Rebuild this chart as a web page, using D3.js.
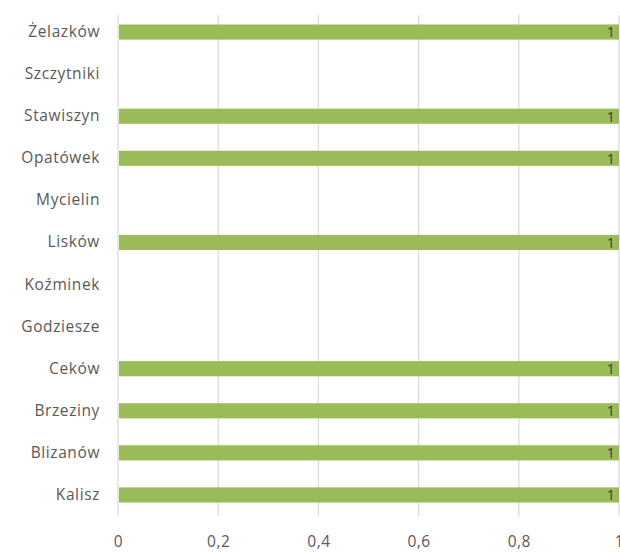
<!DOCTYPE html>
<html>
<head>
<meta charset="utf-8">
<script src="https://cdnjs.cloudflare.com/ajax/libs/d3/7.8.5/d3.min.js"></script>
<style>
  body { margin: 0; background: #fff; }
  text { font-family: "Open Sans", sans-serif; }
</style>
</head>
<body>
<div id="chart"></div>
<script>
// categories from top to bottom
const categories = ['Żelazków', 'Szczytniki', 'Stawiszyn', 'Opatówek', 'Mycielin', 'Lisków',
    'Koźminek', 'Godziesze', 'Ceków', 'Brzeziny', 'Blizanów', 'Kalisz'];
const values = [1, null, 1, 1, null, 1, null, null, 1, 1, 1, 1];
const xTicks = [0, 0.2, 0.4, 0.6, 0.8, 1];

const width = 620, height = 552;
const margin = {top: 11, right: 1, bottom: 36, left: 118};

const svg = d3.select('#chart').append('svg')
    .attr('width', width)
    .attr('height', height);

const chart = svg.append('g')
    .attr('transform', `translate(${margin.left},${margin.top})`);

const innerW = width - margin.left - margin.right;
const innerH = height - margin.top - margin.bottom;

// scales
const xScale = d3.scaleLinear().domain([0, 1]).range([0, innerW]);
const yScale = d3.scaleBand().domain(categories).range([0, innerH]).paddingInner(0.64).paddingOuter(0.32);

// vertical gridlines
chart.selectAll('.grid')
    .data(xTicks)
    .join('line')
    .attr('class', 'grid')
    .attr('x1', d => xScale(d))
    .attr('x2', d => xScale(d))
    .attr('y1', 4)
    .attr('y2', innerH)
    .attr('stroke', '#dcdcdc')
    .attr('stroke-width', 1.3);

// x axis labels
const xAxis = d3.axisBottom(xScale)
    .tickValues(xTicks)
    .tickSize(0)
    .tickPadding(20)
    .tickFormat(d => String(d).replace('.', ','));

chart.append('g')
    .attr('transform', `translate(0,${innerH})`)
    .call(xAxis)
    .call(g => g.select('.domain').remove())
    .call(g => g.selectAll('text')
        .attr('fill', '#595959')
        .style('font-size', '15.5px')
        .style('letter-spacing', '0.5px')
        .style('font-family', '"Open Sans", sans-serif'));

// y axis labels
const yAxis = d3.axisLeft(yScale).tickSize(0).tickPadding(18);
chart.append('g')
    .call(yAxis)
    .call(g => g.select('.domain').remove())
    .call(g => g.selectAll('text')
        .attr('fill', '#595959')
        .style('font-size', '15.5px')
        .style('letter-spacing', '0.6px')
        .style('font-family', '"Open Sans", sans-serif'));

const data = categories.map((c, i) => ({cat: c, val: values[i]})).filter(d => d.val != null);

// bars
chart.selectAll('.bar')
    .data(data)
    .join('rect')
    .attr('class', 'bar')
    .attr('x', xScale(0) + 1)
    .attr('y', d => yScale(d.cat))
    .attr('width', d => xScale(d.val) - xScale(0) - 1)
    .attr('height', yScale.bandwidth())
    .attr('fill', '#9bbb59');

// data labels
chart.selectAll('.lbl')
    .data(data)
    .join('text')
    .attr('class', 'lbl')
    .attr('x', d => xScale(d.val) - 4)
    .attr('y', d => yScale(d.cat) + yScale.bandwidth() / 2)
    .attr('dy', '0.36em')
    .attr('text-anchor', 'end')
    .attr('fill', '#404040')
    .style('font-size', '15px')
    .text(d => d.val);
</script>
</body>
</html>
